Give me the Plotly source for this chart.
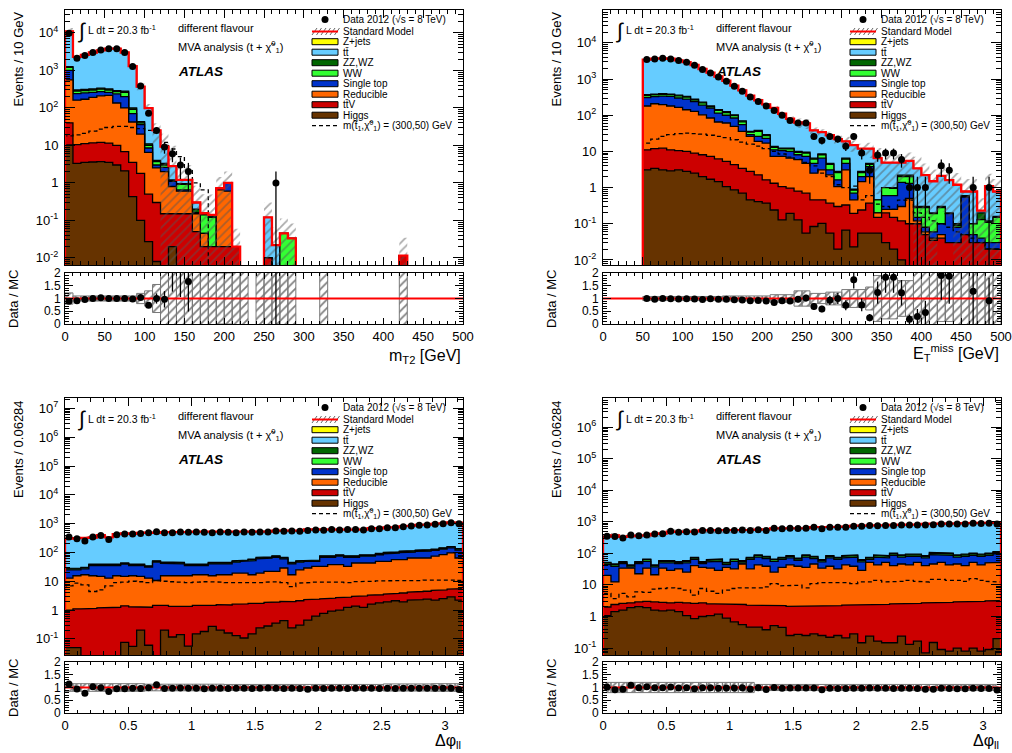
import numpy as np
import plotly.graph_objects as go

# =====================================================================
# Values.
# Stack arrays are the cumulative stack heights (top edge of each
# process in the stack: higgs <= ttv <= reducible <= single top <= WW <= ZZ <= total).
# =====================================================================

# ---------------- Panel A : m_T2, 10 GeV bins 0-500 -----------------
mt2_range = [0, 500]
mt2_nbins = 50
mt2_total = [11000, 2300, 2600, 3000, 3400, 3800, 3800, 3000, 1300, 370,
             98, 25, 9.3, 2.8, 1.2, 1.2, 0.30, 0.155, 0.14, 0.72,
             1.0, 0.02, 0.002, 0, 0.002, 0.12, 0.022, 0.045, 0.033, 0,
             0, 0, 0.002, 0, 0, 0, 0, 0, 0, 0,
             0, 0, 0.0115, 0, 0, 0, 0, 0, 0, 0]
mt2_zz = [1260, 300, 310, 320, 335, 320, 290, 280, 100, 43,
          11, 4.0, 3.3, 1.2, 0.95, 0.95, 0.2, 0.15, 0.13, 0.72,
          1.0, 0.02, 0.002, 0, 0.002, 0.01, 0, 0.045, 0.033, 0,
          0, 0, 0.002, 0, 0, 0, 0, 0, 0, 0,
          0, 0, 0.0115, 0, 0, 0, 0, 0, 0, 0]
mt2_ww = [1200, 280, 290, 300, 315, 300, 270, 260, 92, 40,
          10, 3.7, 3.0, 1.15, 0.92, 0.92, 0.16, 0.14, 0.12, 0.70,
          0.98, 0.02, 0.002, 0, 0.002, 0.01, 0, 0.045, 0.033, 0,
          0, 0, 0.002, 0, 0, 0, 0, 0, 0, 0,
          0, 0, 0.0115, 0, 0, 0, 0, 0, 0, 0]
mt2_st = [1000, 240, 250, 260, 270, 260, 235, 200, 70, 36,
          8.5, 3.0, 2.6, 1.1, 0.65, 0.65, 0.15, 0.045, 0.02, 0.70,
          0.98, 0.02, 0.002, 0, 0.002, 0.01, 0, 0, 0, 0,
          0, 0, 0.002, 0, 0, 0, 0, 0, 0, 0,
          0, 0, 0.0115, 0, 0, 0, 0, 0, 0, 0]
mt2_red = [560, 160, 170, 190, 210, 215, 135, 100, 42, 20,
           6.5, 2.5, 2.0, 0.8, 0.6, 0.6, 0.15, 0.045, 0.02, 0.65,
           0.6, 0.02, 0.002, 0, 0.002, 0.01, 0, 0, 0, 0,
           0, 0, 0.002, 0, 0, 0, 0, 0, 0, 0,
           0, 0, 0.0115, 0, 0, 0, 0, 0, 0, 0]
mt2_ttv = [40, 10.5, 11.2, 11.7, 12, 11.5, 10, 6.8, 3.5, 1.8,
           0.5, 0.3, 0.15, 0.15, 0.15, 0.15, 0.05, 0.02, 0.02, 0.02,
           0.02, 0.02, 0.002, 0, 0.002, 0.01, 0, 0, 0, 0,
           0, 0, 0.002, 0, 0, 0, 0, 0, 0, 0,
           0, 0, 0.0115, 0, 0, 0, 0, 0, 0, 0]
mt2_higgs = [10.3, 3.3, 3.5, 3.6, 3.7, 3.5, 3.0, 2.1, 0.43, 0.1,
             0.027, 0.008, 0, 0.02, 0, 0, 0, 0, 0, 0,
             0, 0, 0, 0, 0, 0, 0, 0, 0, 0,
             0, 0, 0, 0, 0, 0, 0, 0, 0, 0,
             0, 0, 0, 0, 0, 0, 0, 0, 0, 0]
mt2_data = [9800, 2100, 2500, 3000, 3500, 3800, 3800, 3000, 1270, 385,
            72, 25, 9, 6, 3, 2, 0, 0, 0, 0,
            0, 0, 0, 0, 0, 0, 1, 0, 0, 0,
            0, 0, 0, 0, 0, 0, 0, 0, 0, 0,
            0, 0, 0, 0, 0, 0, 0, 0, 0, 0]
mt2_signal = [18, 19, 21, 24, 27, 30, 32, 32, 30, 28,
              25, 22, 12, 8, 5, 2.2, 1.0, 0.65, 0, 0,
              0, 0, 0, 0, 0, 0, 0, 0, 0, 0,
              0, 0, 0, 0, 0, 0, 0, 0, 0, 0,
              0, 0, 0, 0, 0, 0, 0, 0, 0, 0]
mt2_unc = [0.22, 0.1, 0.1, 0.1, 0.1, 0.1, 0.1, 0.1, 0.1, 0.2,
           0.3, 0.55, 1.2, 2.5, 1.5, 1.5, 1.8, 2.2, 2.5, 1.0,
           1.0, 2.0, 2.0, 0, 2.0, 1.5, 2.0, 1.5, 1.5, 0,
           0, 0, 2.0, 0, 0, 0, 0, 0, 0, 0,
           0, 0, 2.0, 0, 0, 0, 0, 0, 0, 0]

# ---------------- Panel B : E_T^miss, 10 GeV bins 50-500 ------------
met_range = [50, 500]
met_nbins = 45
met_total = [3460, 3700, 3750, 3650, 3300, 2950, 2450, 1900, 1500, 1180,
             900, 660, 490, 350, 260, 200, 160, 110, 80, 63,
             60, 38, 34, 28, 22, 19, 15, 12, 12, 6.5,
             4.9, 4.9, 4.9, 5.5, 3.4, 2.2, 1.5, 2.1, 1.6, 1.2,
             0.78, 0.78, 0.23, 1.1, 0.78]
met_zz = [370, 386, 395, 386, 360, 333, 280, 230, 180, 142,
          125, 103, 70, 36, 38, 29, 13.7, 12.3, 12.3, 10,
          9.5, 6.5, 8.5, 4.7, 2.8, 6.5, 0.9, 2.8, 4.7, 0.46,
          1.0, 1.0, 2.2, 2.2, 0.3, 0.3, 0.2, 0.3, 0.2, 0.1,
          0.6, 0.1, 0.2, 0.12, 0.16]
met_ww = [355, 370, 380, 370, 345, 318, 268, 220, 172, 136,
          119, 98, 66, 34, 36, 27.5, 13, 11.7, 11.7, 9.5,
          9, 6.1, 8.1, 4.4, 2.6, 6.1, 0.85, 2.6, 4.4, 0.46,
          1.0, 0.95, 2.0, 2.0, 0.28, 0.28, 0.19, 0.28, 0.19, 0.09,
          0.57, 0.1, 0.13, 0.11, 0.15]
met_st = [310, 330, 340, 333, 300, 280, 240, 190, 158, 115,
          100, 84, 55, 29, 26, 23, 11.1, 10.5, 10, 8.1,
          7.3, 4.7, 6.5, 3.1, 1.64, 4.7, 0.7, 2.0, 3.8, 0.2,
          0.6, 0.6, 1.4, 1.3, 0.15, 0.08, 0.06, 0.1, 0.19, 0.08,
          0.55, 0.05, 0.04, 0.03, 0.03]
met_red = [180, 208, 196, 180, 165, 142, 128, 103, 84, 65,
           61, 49, 36, 26, 19, 17, 7.3, 7.3, 6.5, 5.9,
           4.7, 2.5, 3.1, 2.25, 1.07, 3.1, 0.46, 1.47, 2.0, 0.2,
           0.25, 0.25, 0.3, 0.5, 0.12, 0.06, 0.04, 0.05, 0.03, 0.03,
           0.05, 0.03, 0.03, 0.02, 0.02]
met_ttv = [11.1, 12, 12.3, 11.1, 10.5, 10, 9, 8.1, 7.3, 6.2,
           5.3, 4.3, 3.4, 2.8, 2.25, 1.64, 1.32, 1.07, 0.97, 0.8,
           0.7, 0.46, 0.46, 0.37, 0.30, 0.33, 0.195, 0.24, 0.37, 0.15,
           0.2, 0.15, 0.12, 0.1, 0.1, 0.05, 0.035, 0.04, 0.03, 0.03,
           0.05, 0.03, 0.03, 0.02, 0.02]
met_higgs = [3.1, 3.4, 3.1, 2.9, 3.1, 2.8, 2.5, 2.0, 1.7, 1.47,
             1.07, 0.87, 0.7, 0.46, 0.41, 0.37, 0.24, 0.128, 0.195, 0.128,
             0.055, 0.084, 0.103, 0.055, 0.02, 0.067, 0.023, 0.055, 0.055, 0.055,
             0.03, 0.02, 0.01, 0, 0, 0, 0, 0, 0, 0,
             0, 0, 0, 0, 0]
met_data = [3460, 3600, 3760, 3600, 3240, 2910, 2410, 1830, 1480, 1140,
            870, 630, 460, 320, 240, 180, 135, 100, 72, 61,
            61, 26, 20, 26, 22, 14, 26, 9, 3, 8,
            9, 9, 6, 1, 1, 1, 0, 4, 3, 0,
            0, 1, 0, 1, 0]
met_signal = [17, 22, 26, 29, 31, 32, 31, 30, 28, 26,
              24, 21, 18, 16, 14, 12, 10, 8.5, 7, 6,
              5, 4, 2.5, 2.0, 1.2, 1.0, 1.1, 0.46, 0.6, 0.35,
              0.3, 0.25, 0.45, 0.45, 0.2, 0.15, 0.12, 0.1, 0.08, 0.06,
              0.05, 0.04, 0.03, 0.02, 0.02]
met_unc = [0.08, 0.08, 0.08, 0.08, 0.08, 0.08, 0.08, 0.08, 0.08, 0.08,
           0.1, 0.1, 0.1, 0.1, 0.1, 0.1, 0.15, 0.15, 0.15, 0.3,
           0.3, 0.2, 0.2, 0.25, 0.25, 0.35, 0.35, 0.35, 0.45, 0.9,
           0.8, 0.8, 0.7, 0.7, 1.1, 1.1, 1.1, 0.9, 0.9, 1.1,
           1.2, 1.2, 1.2, 1.2, 1.2]

# ---------------- Panel C : delta phi_ll (left), 50 bins 0-pi -------
dphiC_range = [0, np.pi]
dphiC_nbins = 50
dphiC_total = [300, 315, 320, 330, 395, 335, 430, 455, 445, 475,
               490, 475, 505, 500, 520, 520, 525, 525, 500, 525,
               525, 500, 525, 525, 525, 525, 570, 570, 570, 570,
               625, 615, 615, 650, 615, 650, 650, 615, 690, 690,
               745, 745, 805, 850, 900, 925, 975, 1030, 1110, 1080]
dphiC_zz = [28, 28, 30, 39, 39, 39, 39, 43, 39, 39,
            34, 51, 47, 47, 45, 39, 39, 39, 45, 45,
            45, 51, 54, 58, 67, 70, 76, 67, 45, 51,
            54, 54, 76, 76, 82, 76, 76, 82, 82, 92,
            100, 105, 110, 115, 120, 125, 130, 145, 160, 135]
dphiC_ww = [27, 27, 29, 37.5, 37.5, 37.5, 37.5, 41, 37.5, 37.5,
            32.5, 49, 45, 45, 43, 37.5, 37.5, 37.5, 43, 43,
            43, 49, 52, 56, 64, 67, 73, 64, 43, 49,
            52, 52, 73, 73, 79, 73, 73, 79, 79, 88,
            96, 101, 106, 110, 115, 120, 125, 139, 154, 130]
dphiC_st = [25, 25, 27, 35, 35, 35, 35, 39, 35, 35,
            31, 46, 42, 42, 40, 35, 35, 35, 40, 40,
            40, 46, 49, 52, 60, 63, 68, 60, 40, 46,
            49, 49, 68, 68, 74, 68, 68, 74, 74, 83,
            90, 94, 99, 103, 108, 112, 117, 130, 144, 121]
dphiC_red = [12.8, 15.5, 16.8, 15.5, 14.7, 12.8, 15.5, 14.7, 15.5, 14.7,
             12.8, 10.6, 15.5, 15.5, 14.7, 15.5, 16.8, 16.8, 15.5, 16.8,
             16.8, 19.2, 19.2, 16.8, 19.2, 22, 22, 28.8, 16.8, 25,
             28.8, 33, 33, 37.6, 37.6, 33, 43, 43, 43, 49,
             49, 56, 56, 64, 64, 64, 74, 84, 96, 64]
dphiC_ttv = [1.0, 1.1, 1.1, 1.15, 1.2, 1.2, 1.25, 1.4, 1.3, 1.3,
             1.25, 1.45, 1.45, 1.35, 1.4, 1.35, 1.45, 1.5, 1.45, 1.55,
             1.5, 1.6, 1.65, 1.7, 1.7, 1.85, 1.9, 2.0, 1.95, 2.1,
             2.3, 2.4, 2.45, 2.6, 2.7, 2.8, 3.0, 3.1, 3.3, 3.4,
             3.6, 3.8, 3.9, 4.2, 4.4, 4.5, 4.8, 5.0, 5.3, 5.5]
dphiC_higgs = [0.05, 0.05, 0, 0, 0, 0, 0, 0.076, 0.055, 0.2,
               0.06, 0, 0.2, 0.116, 0.14, 0.056, 0.15, 0.18, 0.27, 0.2,
               0.16, 0.13, 0.107, 0.15, 0.24, 0.28, 0.35, 0.43, 0.24, 0.3,
               0.45, 0.62, 0.77, 0.92, 1.0, 1.23, 1.37, 1.23, 1.6, 1.78,
               1.93, 2.1, 1.93, 2.2, 2.3, 2.4, 2.2, 2.5, 2.86, 2.2]
dphiC_data = [340, 298, 247, 340, 390, 282, 411, 434, 434, 457,
              483, 524, 483, 483, 510, 505, 510, 498, 483, 510,
              506, 483, 510, 502, 510, 515, 552, 548, 552, 545,
              582, 598, 590, 631, 598, 625, 631, 598, 667, 660,
              722, 715, 783, 826, 871, 896, 946, 998, 1081, 998]
dphiC_signal = [6.9, 8.6, 7.5, 4.4, 5.0, 6.9, 9.0, 9.3, 10, 9.6,
                9.0, 10.6, 10, 9.6, 9.3, 9.0, 9.3, 9.6, 9.6, 9.3,
                9.0, 8.6, 8.6, 8.6, 9.0, 9.3, 9.6, 9.0, 6.5, 8.6,
                9.0, 9.3, 9.6, 9.6, 9.3, 9.0, 9.6, 10, 10, 10.3,
                10, 10.6, 10.6, 10.3, 10.6, 11, 11, 11.5, 11, 10.6]
dphiC_unc = [0.15, 0.15, 0.15, 0.15, 0.15, 0.15, 0.15, 0.15, 0.15, 0.15,
             0.13, 0.13, 0.13, 0.13, 0.13, 0.13, 0.13, 0.13, 0.13, 0.13,
             0.12, 0.12, 0.12, 0.12, 0.12, 0.12, 0.12, 0.12, 0.12, 0.12,
             0.12, 0.12, 0.12, 0.12, 0.12, 0.12, 0.12, 0.12, 0.12, 0.12,
             0.14, 0.14, 0.14, 0.14, 0.14, 0.14, 0.15, 0.15, 0.15, 0.15]

# ---------------- Panel D : delta phi_ll (right), 50 bins 0-pi ------
dphiD_range = [0, np.pi]
dphiD_nbins = 50
dphiD_total = [340, 370, 330, 350, 365, 370, 415, 425, 490, 475,
               490, 495, 530, 530, 535, 535, 540, 555, 555, 565,
               570, 620, 620, 630, 630, 630, 680, 660, 690, 690,
               700, 740, 740, 770, 770, 780, 790, 810, 810, 820,
               850, 860, 880, 880, 890, 900, 920, 920, 930, 940]
dphiD_zz = [52, 46, 55, 43, 55, 66, 43, 59, 59, 55,
            59, 75, 55, 63, 66, 52, 66, 59, 75, 89,
            80, 66, 75, 85, 70, 89, 80, 63, 85, 75,
            85, 89, 63, 75, 89, 85, 102, 89, 95, 95,
            85, 107, 107, 102, 89, 95, 102, 95, 102, 113]
dphiD_ww = [49, 44, 52, 41, 52, 63, 41, 56, 56, 52,
            56, 71, 52, 60, 63, 49, 63, 56, 71, 85,
            76, 63, 71, 81, 66, 85, 76, 60, 81, 71,
            81, 85, 60, 71, 85, 81, 97, 85, 90, 90,
            81, 102, 102, 97, 85, 90, 97, 90, 97, 107]
dphiD_st = [44, 39, 47, 37, 47, 56, 37, 50, 50, 47,
            50, 64, 47, 54, 56, 44, 56, 50, 64, 76,
            68, 56, 64, 72, 60, 76, 68, 54, 72, 64,
            72, 76, 54, 64, 76, 72, 87, 76, 81, 81,
            72, 91, 91, 87, 76, 81, 87, 81, 87, 96]
dphiD_red = [20, 12.4, 34, 34, 22.6, 34, 21, 34, 29, 32,
             25.5, 41, 36, 34, 29, 36, 32, 46, 32, 43,
             39, 25.5, 36, 43, 39, 36, 46, 34, 39, 32,
             43, 39, 29, 52, 43, 52, 41, 46, 43, 52,
             41, 46, 52, 43, 46, 41, 52, 43, 50, 52]
dphiD_ttv = [2.0, 2.4, 2.6, 2.7, 2.9, 3.0, 2.9, 2.8, 2.7, 2.8,
             2.7, 2.6, 2.7, 2.5, 2.5, 2.5, 2.4, 2.4, 2.3, 2.3,
             2.2, 2.2, 2.2, 2.1, 2.2, 2.2, 2.1, 2.1, 2.2, 2.2,
             2.3, 2.3, 2.3, 2.4, 2.4, 2.4, 2.5, 2.5, 2.6, 2.6,
             2.7, 2.7, 2.8, 2.8, 2.9, 2.9, 3.0, 3.0, 3.1, 3.2]
dphiD_higgs = [1.07, 1.43, 1.6, 1.9, 2.05, 1.9, 1.6, 1.5, 1.6, 1.43,
               1.07, 0.85, 1.0, 1.07, 1.18, 0.89, 0.67, 0.55, 0.46, 0.46,
               0.38, 0.51, 0.45, 0.25, 0.27, 0.25, 0.28, 0.25, 0.22, 0.25,
               0.21, 0.28, 0.147, 0.24, 0.166, 0.147, 0.147, 0.24, 0.13, 0.166,
               0.07, 0.15, 0.09, 0.08, 0.1, 0.08, 0.1, 0.08, 0.09, 0.2]
dphiD_data = [347, 339, 308, 381, 363, 381, 410, 420, 500, 465,
              487, 470, 525, 525, 520, 525, 530, 550, 525, 560,
              525, 620, 600, 620, 615, 620, 670, 600, 670, 665,
              670, 720, 715, 755, 750, 755, 760, 790, 785, 790,
              790, 800, 850, 845, 850, 855, 890, 885, 890, 850]
dphiD_signal = [5.4, 3.7, 5.4, 4.2, 6.0, 5.8, 7.3, 7.7, 8.1, 7.7,
                6.8, 4.75, 7.7, 6.3, 5.4, 6.8, 7.7, 8.1, 8.1, 8.1,
                8.7, 11, 9.3, 9.8, 9.8, 8.1, 11, 11.8, 11.8, 11.8,
                11.8, 11, 12.4, 12.4, 14, 12.4, 12.4, 13, 14, 13,
                12.4, 15, 15, 14, 14, 13, 15.8, 14, 13, 12.4]
dphiD_unc = [0.2, 0.2, 0.2, 0.2, 0.2, 0.2, 0.2, 0.2, 0.2, 0.2,
             0.2, 0.2, 0.2, 0.2, 0.2, 0.2, 0.2, 0.2, 0.2, 0.12,
             0.12, 0.12, 0.12, 0.12, 0.12, 0.12, 0.12, 0.12, 0.12, 0.12,
             0.12, 0.12, 0.12, 0.12, 0.12, 0.12, 0.12, 0.12, 0.12, 0.12,
             0.12, 0.12, 0.12, 0.12, 0.12, 0.12, 0.12, 0.12, 0.12, 0.12]

legend_labels = ["Data 2012 (\u221as = 8 TeV)", "Standard Model", "Z+jets", "tt\u0304",
                 "ZZ,WZ", "WW", "Single top", "Reducible", "tt\u0304V", "Higgs",
                 "m(t\u0303<sub>1</sub>,\u03c7\u0303<sup>0</sup><sub>1</sub>) = (300,50) GeV"]

# =====================================================================
# Styling / layout
# =====================================================================
W, H = 1012, 753
FONT = "Liberation Sans, Arial, Helvetica, sans-serif"
FLOOR = 1e-7
COL = dict(zj="#ffff00", tt="#66ccff", zz="#006600", ww="#33ff33", st="#0033cc",
           red="#ff6600", ttv="#cc0000", higgs="#663300")

panels = [
    dict(rng=mt2_range, n=mt2_nbins, total=mt2_total, zz=mt2_zz, ww=mt2_ww, st=mt2_st,
         red=mt2_red, ttv=mt2_ttv, higgs=mt2_higgs, data=mt2_data, sig=mt2_signal,
         unc=mt2_unc, xl=65, xr=463, mt=10, mb=265, rt=273, rb=324,
         ylog=[-2.19, 4.61], xrange=[0, 500], xmaj=50, xmin=10,
         ytitle="Events / 10 GeV", xtitle="m<sub>T2</sub> [GeV]", xty=356),
    dict(rng=met_range, n=met_nbins, total=met_total, zz=met_zz, ww=met_ww, st=met_st,
         red=met_red, ttv=met_ttv, higgs=met_higgs, data=met_data, sig=met_signal,
         unc=met_unc, xl=603, xr=1001, mt=10, mb=265, rt=273, rb=324,
         ylog=[-2.14, 4.91], xrange=[0, 500], xmaj=50, xmin=10,
         ytitle="Events / 10 GeV", xtitle="E<sub>T</sub><sup>miss</sup> [GeV]", xty=353),
    dict(rng=dphiC_range, n=dphiC_nbins, total=dphiC_total, zz=dphiC_zz, ww=dphiC_ww,
         st=dphiC_st, red=dphiC_red, ttv=dphiC_ttv, higgs=dphiC_higgs, data=dphiC_data,
         sig=dphiC_signal, unc=dphiC_unc, xl=65, xr=463, mt=398, mb=655, rt=662, rb=713,
         ylog=[-1.56, 7.36], xrange=[0, np.pi], xmaj=0.5, xmin=0.1,
         ytitle="Events / 0.06284", xtitle="\u0394\u03c6<sub>ll</sub>", xty=741),
    dict(rng=dphiD_range, n=dphiD_nbins, total=dphiD_total, zz=dphiD_zz, ww=dphiD_ww,
         st=dphiD_st, red=dphiD_red, ttv=dphiD_ttv, higgs=dphiD_higgs, data=dphiD_data,
         sig=dphiD_signal, unc=dphiD_unc, xl=603, xr=1001, mt=398, mb=655, rt=662, rb=713,
         ylog=[-1.22, 6.92], xrange=[0, np.pi], xmaj=0.5, xmin=0.1,
         ytitle="Events / 0.06284", xtitle="\u0394\u03c6<sub>ll</sub>", xty=741),
]


def refs(n):
    return ("x" if n == 1 else f"x{n}", "y" if n == 1 else f"y{n}",
            "xaxis" if n == 1 else f"xaxis{n}", "yaxis" if n == 1 else f"yaxis{n}")


def step_xy(edges, vals):
    xs, ys = [edges[0]], [FLOOR]
    for i, v in enumerate(vals):
        vv = v if v > 0 else FLOOR
        xs += [edges[i], edges[i + 1]]
        ys += [vv, vv]
    xs.append(edges[-1])
    ys.append(FLOOR)
    return xs, ys


def log_ticks(lo, hi):
    vals, txt, minor = [], [], []
    for e in range(int(np.floor(lo)) - 1, int(np.ceil(hi)) + 1):
        if lo <= e <= hi:
            vals.append(10.0 ** e)
            txt.append("1" if e == 0 else ("10" if e == 1 else f"10<sup>{e}</sup>"))
        for k in range(2, 10):
            v = k * 10.0 ** e
            if lo <= np.log10(v) <= hi:
                minor.append(v)
    return vals, txt, minor


fig = go.Figure()
layout = {}
annotations = []
shapes = []

AXCOMMON = dict(showline=True, linecolor="black", linewidth=1, mirror="allticks",
                showgrid=False, zeroline=False, tickcolor="black", tickwidth=1,
                automargin=False)

for pi, p in enumerate(panels):
    nm, nr = 2 * pi + 1, 2 * pi + 2
    xm, ym, xam, yam = refs(nm)
    xr_, yr_, xar, yar = refs(nr)
    edges = np.linspace(p["rng"][0], p["rng"][1], p["n"] + 1)
    centers = 0.5 * (edges[:-1] + edges[1:])
    tot = np.array(p["total"], float)

    names = ["higgs", "ttv", "red", "st", "ww", "zz", "tt"]
    arrs = [np.array(p["higgs"], float), np.array(p["ttv"], float), np.array(p["red"], float),
            np.array(p["st"], float), np.array(p["ww"], float), np.array(p["zz"], float), tot]
    for i in range(1, len(arrs)):
        arrs[i] = np.maximum(arrs[i], arrs[i - 1])
    for name, arr in reversed(list(zip(names, arrs))):
        xs, ys = step_xy(edges, arr)
        fig.add_trace(go.Scatter(x=xs, y=ys, mode="lines", fill="toself", fillcolor=COL[name],
                                 line=dict(color="black", width=1.3), xaxis=xm, yaxis=ym,
                                 hoverinfo="skip"))
    xs, ys = step_xy(edges, p["sig"])
    fig.add_trace(go.Scatter(x=xs, y=ys, mode="lines", line=dict(color="black", width=1.3, dash="4px,3px"),
                             xaxis=xm, yaxis=ym, hoverinfo="skip"))
    unc = np.array(p["unc"], float)
    hx, hy, rx, ry = [], [], [], []
    for i in range(p["n"]):
        if tot[i] > 0 and unc[i] > 0:
            lo = max(tot[i] * (1 - unc[i]), FLOOR)
            hi = tot[i] * (1 + unc[i])
            hx += [edges[i], edges[i + 1], edges[i + 1], edges[i], edges[i], None]
            hy += [lo, lo, hi, hi, lo, None]
            rlo = max(1 - unc[i], -0.05)
            rhi = min(1 + unc[i], 2.05)
            rx += [edges[i], edges[i + 1], edges[i + 1], edges[i], edges[i], None]
            ry += [rlo, rlo, rhi, rhi, rlo, None]
    fig.add_trace(go.Scatter(x=hx, y=hy, mode="lines", fill="toself", fillcolor="rgba(0,0,0,0)",
                             fillpattern=dict(shape="/", fgcolor="#555555", bgcolor="rgba(0,0,0,0)",
                                              size=6, solidity=0.3),
                             line=dict(width=0, color="rgba(0,0,0,0)"), xaxis=xm, yaxis=ym,
                             hoverinfo="skip"))
    xs, ys = step_xy(edges, tot)
    fig.add_trace(go.Scatter(x=xs, y=ys, mode="lines", line=dict(color="#ff0000", width=2.3),
                             xaxis=xm, yaxis=ym, hoverinfo="skip"))
    dat = np.array(p["data"], float)
    dy = [v if v > 0 else None for v in dat]
    de = [np.sqrt(v) if v > 0 else None for v in dat]
    fig.add_trace(go.Scatter(x=centers, y=dy, mode="markers", marker=dict(color="black", size=7),
                             error_y=dict(type="data", array=de, visible=True, thickness=1.3,
                                          width=0, color="black"),
                             xaxis=xm, yaxis=ym, hoverinfo="skip"))

    # ---- ratio panel ----
    fig.add_trace(go.Scatter(x=rx, y=ry, mode="lines", fill="toself", fillcolor="rgba(0,0,0,0)",
                             fillpattern=dict(shape="/", fgcolor="#000000", bgcolor="rgba(0,0,0,0)",
                                              size=6, solidity=0.3),
                             line=dict(width=1, color="#777777"), xaxis=xr_, yaxis=yr_,
                             hoverinfo="skip"))
    fig.add_trace(go.Scatter(x=[p["xrange"][0], p["xrange"][1]], y=[1, 1], mode="lines",
                             line=dict(color="#ff0000", width=2), xaxis=xr_, yaxis=yr_,
                             hoverinfo="skip"))
    rr, re_ = [], []
    for i in range(p["n"]):
        if dat[i] > 0 and tot[i] > 0:
            rr.append(dat[i] / tot[i])
            re_.append(np.sqrt(dat[i]) / tot[i])
        else:
            rr.append(None)
            re_.append(None)
    fig.add_trace(go.Scatter(x=centers, y=rr, mode="markers", marker=dict(color="black", size=7),
                             error_y=dict(type="data", array=re_, visible=True, thickness=1.3,
                                          width=0, color="black"),
                             xaxis=xr_, yaxis=yr_, hoverinfo="skip"))

    # ---- axes ----
    xdom = [p["xl"] / W, p["xr"] / W]
    maj_vals = list(np.arange(p["xrange"][0], p["xrange"][1] + 1e-9, p["xmaj"]))
    maj_txt = [("%g" % v) for v in maj_vals]
    xminor = dict(tickmode="linear", tick0=0, dtick=p["xmin"], ticks="inside", ticklen=4,
                  tickcolor="black", showgrid=False)
    layout[xam] = dict(AXCOMMON, domain=xdom, range=p["xrange"], anchor=ym,
                       tickmode="array", tickvals=maj_vals, showticklabels=False,
                       ticks="inside", ticklen=8, minor=xminor)
    yv, yt, ymn = log_ticks(p["ylog"][0], p["ylog"][1])
    layout[yam] = dict(AXCOMMON, type="log", domain=[1 - p["mb"] / H, 1 - p["mt"] / H],
                       range=p["ylog"], anchor=xm, tickmode="array", tickvals=yv, ticktext=yt,
                       ticks="inside", ticklen=10, ticklabelstandoff=3,
                       tickfont=dict(size=13, family=FONT),
                       minor=dict(tickmode="array", tickvals=ymn, ticks="inside", ticklen=5,
                                  tickcolor="black", showgrid=False))
    layout[xar] = dict(AXCOMMON, domain=xdom, range=p["xrange"], anchor=yr_,
                       tickmode="array", tickvals=maj_vals, ticktext=maj_txt,
                       ticks="inside", ticklen=6, tickfont=dict(size=13, family=FONT),
                       minor=dict(xminor, ticklen=3))
    layout[yar] = dict(AXCOMMON, domain=[1 - p["rb"] / H, 1 - p["rt"] / H], range=[0, 2],
                       anchor=xr_, tickmode="array", tickvals=[0, 0.5, 1, 1.5, 2],
                       ticktext=["0", "0.5", "1", "1.5", "2"], ticks="inside", ticklen=8,
                       ticklabelstandoff=1, tickfont=dict(size=12, family=FONT),
                       minor=dict(tickmode="linear", tick0=0, dtick=0.1, ticks="inside",
                                  ticklen=4, tickcolor="black", showgrid=False))

    # ---- text / legend decorations (panel-relative pixels) ----
    pw = p["xr"] - p["xl"]
    ph = p["mb"] - p["mt"]
    xd, yd = f"{xm} domain", f"{ym} domain"

    def fx(r, pw=pw):
        return r / pw

    def fy(r, ph=ph):
        return 1 - r / ph

    def txt(text, rx_, ry_, size, xanchor="left", xd=xd, yd=yd):
        annotations.append(dict(text=text, x=fx(rx_), y=fy(ry_), xref=xd, yref=yd,
                                xanchor=xanchor, yanchor="middle", showarrow=False,
                                font=dict(family=FONT, size=size, color="black")))

    txt("\u222b", 17, 21, 21, xanchor="center")
    txt("L dt = 20.3 fb<sup>-1</sup>", 21, 20, 10.5)
    txt("different flavour", 111, 18, 11)
    txt("MVA analysis (t + \u03c7\u0303<sup>0</sup><sub>1</sub>)", 111, 37, 11)
    txt("<b><i>ATLAS</i></b>", 111, 61, 13.5)

    ycs = [9.5, 21.5, 31.7, 42.2, 52.7, 63.2, 73.7, 84.2, 94.7, 105.2, 115.7]
    bx0, bx1 = 247, 273
    for lab, yc in zip(legend_labels, ycs):
        txt(lab, 276, yc, 10)
    shapes.append(dict(type="circle", xref=xd, yref=yd, x0=fx(256.5), x1=fx(263.5),
                       y0=fy(ycs[0] + 3.5), y1=fy(ycs[0] - 3.5), fillcolor="black",
                       line=dict(color="black", width=0)))
    for k in range(6):
        shapes.append(dict(type="line", xref=xd, yref=yd, x0=fx(bx0 + 4.5 * k), x1=fx(bx0 + 4.5 * k + 5),
                           y0=fy(ycs[1] + 3.5), y1=fy(ycs[1] - 3.5),
                           line=dict(color="#666666", width=1)))
    shapes.append(dict(type="line", xref=xd, yref=yd, x0=fx(bx0), x1=fx(bx1),
                       y0=fy(ycs[1]), y1=fy(ycs[1]), line=dict(color="#ff0000", width=2)))
    for key, yc in zip(["zj", "tt", "zz", "ww", "st", "red", "ttv", "higgs"], ycs[2:10]):
        shapes.append(dict(type="rect", xref=xd, yref=yd, x0=fx(bx0), x1=fx(bx1),
                           y0=fy(yc + 3), y1=fy(yc - 3), fillcolor=COL[key],
                           line=dict(color="black", width=1)))
    shapes.append(dict(type="line", xref=xd, yref=yd, x0=fx(bx0), x1=fx(bx1),
                       y0=fy(ycs[10]), y1=fy(ycs[10]),
                       line=dict(color="black", width=1.3, dash="4px,3px")))

    annotations.append(dict(text=p["ytitle"], x=(p["xl"] - 47) / W, y=1 - p["mt"] / H,
                            xref="paper", yref="paper", xanchor="center", yanchor="top",
                            textangle=-90, showarrow=False, font=dict(family=FONT, size=13)))
    annotations.append(dict(text="Data / MC", x=(p["xl"] - 51.5) / W,
                            y=1 - (p["rt"] + p["rb"]) / 2 / H, xref="paper", yref="paper",
                            xanchor="center", yanchor="middle", textangle=-90, showarrow=False,
                            font=dict(family=FONT, size=13)))
    annotations.append(dict(text=p["xtitle"], x=p["xr"] / W, y=1 - p["xty"] / H,
                            xref="paper", yref="paper", xanchor="right", yanchor="middle",
                            showarrow=False, font=dict(family=FONT, size=16)))

fig.update_layout(width=W, height=H, margin=dict(l=0, r=0, t=0, b=0, autoexpand=False),
                  paper_bgcolor="white", plot_bgcolor="white", showlegend=False,
                  font=dict(family=FONT, color="black", size=13),
                  annotations=annotations, shapes=shapes, **layout)
fig.write_html("out.html", config={"displayModeBar": False},
               post_script="document.body.style.margin='0';document.body.style.overflow='hidden';")
